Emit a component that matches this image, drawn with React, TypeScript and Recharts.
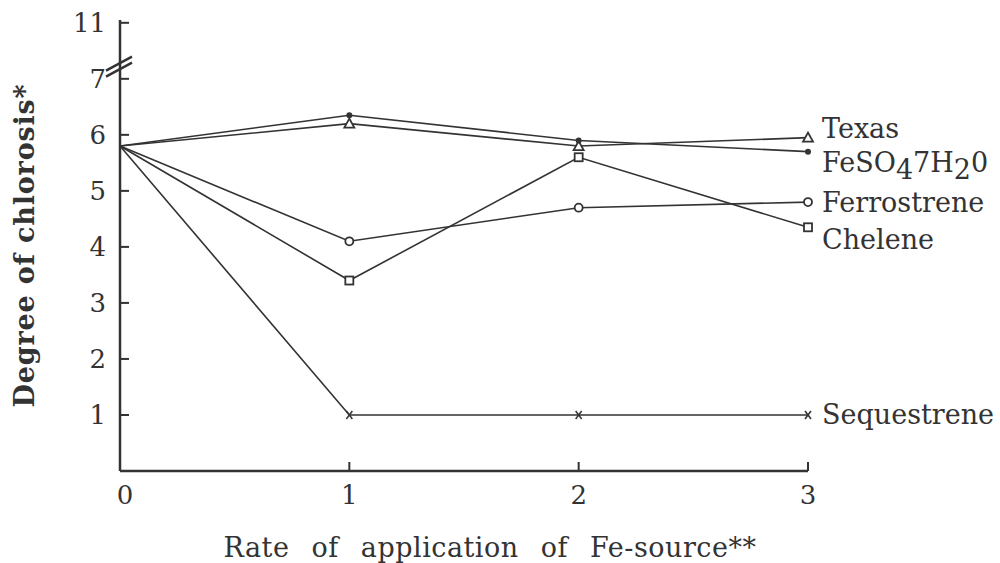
import { LineChart, Line, XAxis, YAxis } from 'recharts';

// Rate of application of Fe-source
const rates = [0, 1, 2, 3];

// Degree of chlorosis per Fe source
const texas = [5.8, 6.2, 5.8, 5.95];
const feso4 = [5.8, 6.35, 5.9, 5.7];
const ferrostrene = [5.8, 4.1, 4.7, 4.8];
const chelene = [5.8, 3.4, 5.6, 4.35];
const sequestrene = [5.8, 1, 1, 1];

// y axis is broken above 7; the top tick stands for 11
const yTickValues = [1, 2, 3, 4, 5, 6, 7, 7.2, 8];
const yTickLabels = ['1', '2', '3', '4', '5', '6', '7', '', '11'];
const BREAK_VALUE = 7.2;

const INK = '#333';
const FONT = '"DejaVu Serif", "Liberation Serif", serif';

const data = rates.map((rate, i) => ({
  rate,
  texas: texas[i],
  feso4: feso4[i],
  ferrostrene: ferrostrene[i],
  chelene: chelene[i],
  sequestrene: sequestrene[i],
}));

type Marker = 'triangle' | 'dot' | 'circle' | 'square' | 'cross';

const series: { key: string; name: string; marker: Marker; labelDy: number }[] = [
  { key: 'texas', name: 'Texas', marker: 'triangle', labelDy: -9 },
  { key: 'feso4', name: 'FeSO47H20', marker: 'dot', labelDy: 10 },
  { key: 'ferrostrene', name: 'Ferrostrene', marker: 'circle', labelDy: 0 },
  { key: 'chelene', name: 'Chelene', marker: 'square', labelDy: 12 },
  { key: 'sequestrene', name: 'Sequestrene', marker: 'cross', labelDy: 0 },
];

const drawMarker = (marker: Marker, cx: number, cy: number) => {
  switch (marker) {
    case 'triangle':
      return (
        <polygon
          points={`${cx},${cy - 5} ${cx - 5},${cy + 4} ${cx + 5},${cy + 4}`}
          fill="#fff"
          stroke={INK}
          strokeWidth={1.8}
        />
      );
    case 'dot':
      return <circle cx={cx} cy={cy} r={3} fill={INK} />;
    case 'circle':
      return <circle cx={cx} cy={cy} r={4} fill="#fff" stroke={INK} strokeWidth={1.8} />;
    case 'square':
      return <rect x={cx - 4} y={cy - 4} width={8} height={8} fill="#fff" stroke={INK} strokeWidth={1.8} />;
    case 'cross':
      return (
        <g stroke={INK} strokeWidth={1.5}>
          <line x1={cx - 3} y1={cy - 4} x2={cx + 3} y2={cy + 4} />
          <line x1={cx + 3} y1={cy - 4} x2={cx - 3} y2={cy + 4} />
        </g>
      );
  }
};

const seriesLabel = (name: string) => {
  if (name !== 'FeSO47H20') return name;
  return (
    <>
      <tspan>FeSO</tspan>
      <tspan dy={7}>4</tspan>
      <tspan dy={-7}>7H</tspan>
      <tspan dy={7}>2</tspan>
      <tspan dy={-7}>0</tspan>
    </>
  );
};

const makeDot = (s: (typeof series)[number]) => (props: any) => {
  const { cx, cy, index } = props;
  const k = `${s.key}-${index}`;
  if (index === 0 || cx == null || cy == null) return <g key={k} />;
  return (
    <g key={k}>
      {drawMarker(s.marker, cx, cy)}
      {index === rates.length - 1 && (
        <text
          x={cx + 14}
          y={cy + s.labelDy}
          dominantBaseline="central"
          fontFamily={FONT}
          fontSize={27}
          fill={INK}
        >
          {seriesLabel(s.name)}
        </text>
      )}
    </g>
  );
};

const YTick = (props: any) => {
  const { x, y, payload } = props;
  const v = payload.value;
  if (v === BREAK_VALUE) {
    return (
      <g stroke={INK} strokeWidth={2.5}>
        <line x1={x - 14} y1={y + 9} x2={x + 12} y2={y - 5} />
        <line x1={x - 14} y1={y + 3} x2={x + 12} y2={y - 11} />
      </g>
    );
  }
  const label = yTickLabels[yTickValues.indexOf(v)];
  return (
    <g>
      <line x1={x} y1={y} x2={x + 9} y2={y} stroke={INK} strokeWidth={2} />
      <text x={x - 14} y={y} textAnchor="end" dominantBaseline="central" fontFamily={FONT} fontSize={26} fill={INK}>
        {label}
      </text>
    </g>
  );
};

const XTick = (props: any) => {
  const { x, y, payload } = props;
  return (
    <g>
      {payload.value !== 0 && <line x1={x} y1={y} x2={x} y2={y - 9} stroke={INK} strokeWidth={2} />}
      <text x={x + (payload.value === 0 ? 5 : 0)} y={y + 24} textAnchor="middle" dominantBaseline="central" fontFamily={FONT} fontSize={26} fill={INK}>
        {payload.value}
      </text>
    </g>
  );
};

const XTitle = (props: any) => {
  const { viewBox } = props;
  return (
    <text
      x={viewBox.x + viewBox.width / 2 + 26}
      y={viewBox.y + viewBox.height - 16}
      textAnchor="middle"
      dominantBaseline="central"
      fontFamily={FONT}
      fontSize={27}
      fill={INK}
      style={{ wordSpacing: 13, letterSpacing: 0.5 }}
    >
      Rate of application of Fe-source**
    </text>
  );
};

export default function App() {
  return (
    <div style={{ position: 'fixed', left: 0, top: 0, width: 1000, height: 563, background: '#fff' }}>
      <LineChart width={1000} height={563} data={data} margin={{ top: 20, right: 192, bottom: 0, left: 0 }}>
        <XAxis
          dataKey="rate"
          type="number"
          domain={[0, 3]}
          ticks={rates}
          height={92}
          tickSize={0}
          tickMargin={0}
          tick={<XTick />}
          axisLine={{ stroke: INK, strokeWidth: 2.5 }}
          label={{ position: 'insideBottom', content: <XTitle /> }}
        />
        <YAxis
          type="number"
          domain={[0, 8.05]}
          ticks={yTickValues}
          width={120}
          tickSize={0}
          tickMargin={0}
          tick={<YTick />}
          interval={0}
          axisLine={{ stroke: INK, strokeWidth: 2.5 }}
          label={{
            value: 'Degree of chlorosis*',
            angle: -90,
            position: 'insideLeft',
            offset: 24,
            style: { fontFamily: FONT, fontSize: 27, fontWeight: 'bold', fill: INK, textAnchor: 'middle', letterSpacing: 0.8 },
          }}
        />
        {series.map((s) => (
          <Line
            key={s.key}
            dataKey={s.key}
            type="linear"
            stroke={INK}
            strokeWidth={1.6}
            dot={makeDot(s)}
            activeDot={false}
            isAnimationActive={false}
          />
        ))}
      </LineChart>
    </div>
  );
}
